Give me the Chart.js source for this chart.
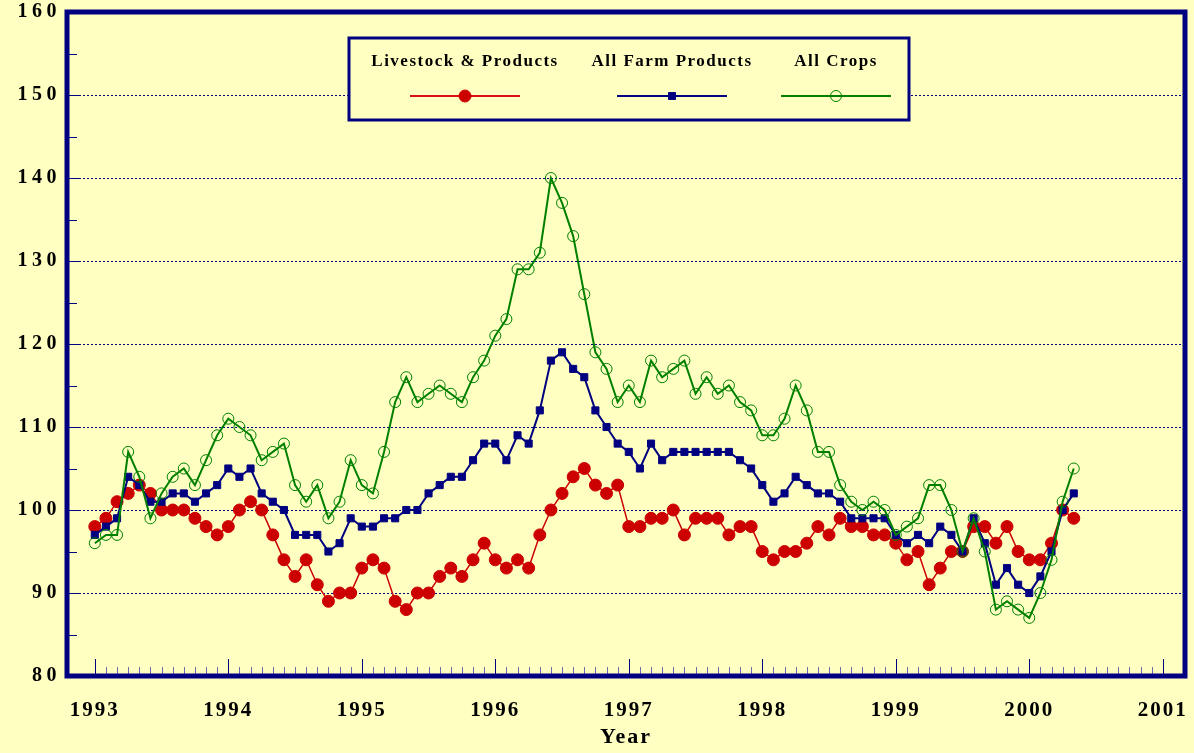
<!DOCTYPE html>
<html>
<head>
<script src="https://cdn.jsdelivr.net/npm/chart.js@4.4.0/dist/chart.umd.min.js"></script>
<style>
  body { margin: 0; background: #FFFFC2; }
  .wrap { width: 1194px; height: 753px; }
</style>
</head>
<body>
<div class="wrap"><canvas id="c"></canvas></div>
<script>
// monthly index values, Jan 1993 .. May 2000
const yearLabels = ['1993', '1994', '1995', '1996', '1997', '1998', '1999', '2000', '2001'];

const livestock = [
  98, 99, 101, 102, 103, 102, 100, 100, 100, 99, 98, 97,
  98, 100, 101, 100, 97, 94, 92, 94, 91, 89, 90, 90,
  93, 94, 93, 89, 88, 90, 90, 92, 93, 92, 94, 96,
  94, 93, 94, 93, 97, 100, 102, 104, 105, 103, 102, 103,
  98, 98, 99, 99, 100, 97, 99, 99, 99, 97, 98, 98,
  95, 94, 95, 95, 96, 98, 97, 99, 98, 98, 97, 97,
  96, 94, 95, 91, 93, 95, 95, 98, 98, 96, 98, 95,
  94, 94, 96, 100, 99
];

const farmProducts = [
  97, 98, 99, 104, 103, 101, 101, 102, 102, 101, 102, 103,
  105, 104, 105, 102, 101, 100, 97, 97, 97, 95, 96, 99,
  98, 98, 99, 99, 100, 100, 102, 103, 104, 104, 106, 108,
  108, 106, 109, 108, 112, 118, 119, 117, 116, 112, 110, 108,
  107, 105, 108, 106, 107, 107, 107, 107, 107, 107, 106, 105,
  103, 101, 102, 104, 103, 102, 102, 101, 99, 99, 99, 99,
  97, 96, 97, 96, 98, 97, 95, 99, 96, 91, 93, 91,
  90, 92, 95, 100, 102
];

const crops = [
  96, 97, 97, 107, 104, 99, 102, 104, 105, 103, 106, 109,
  111, 110, 109, 106, 107, 108, 103, 101, 103, 99, 101, 106,
  103, 102, 107, 113, 116, 113, 114, 115, 114, 113, 116, 118,
  121, 123, 129, 129, 131, 140, 137, 133, 126, 119, 117, 113,
  115, 113, 118, 116, 117, 118, 114, 116, 114, 115, 113, 112,
  109, 109, 111, 115, 112, 107, 107, 103, 101, 100, 101, 100,
  97, 98, 99, 103, 103, 100, 95, 99, 95, 88, 89, 88,
  87, 90, 94, 101, 105
];

const BG = '#FFFFC2';
const NAVY = '#000080';
const FONT = "'Liberation Serif', serif";

const toPoints = arr => arr.map((v, i) => ({ x: i, y: v }));

// y labels in the original are spaced wider than the year labels
function spacedLabels(scale, spacing) {
  if (scale._spaced) return;
  scale._spaced = true;
  const orig = scale.drawLabels;
  scale.drawLabels = function (area) {
    const prev = this.ctx.letterSpacing;
    this.ctx.letterSpacing = spacing;
    orig.call(this, area);
    this.ctx.letterSpacing = prev;
  };
}

const chartFrame = {
  id: 'chartFrame',
  beforeDraw(chart) {
    const ctx = chart.ctx;
    ctx.save();
    ctx.fillStyle = BG;
    ctx.fillRect(0, 0, chart.width, chart.height);
    ctx.restore();
    ctx.letterSpacing = '2px';
  },
  beforeDatasetsDraw(chart) {
    const { ctx, chartArea: a, scales: { x, y } } = chart;
    ctx.save();
    // month ticks along the bottom, inside the frame
    for (let m = 0; m <= 96; m++) {
      const px = Math.round(x.getPixelForValue(m)) + 0.5;
      const major = m % 12 === 0;
      ctx.strokeStyle = major ? NAVY : '#6a6ab0';
      ctx.lineWidth = 1;
      ctx.beginPath();
      ctx.moveTo(px, a.bottom);
      ctx.lineTo(px, a.bottom - (major ? 17 : 9));
      ctx.stroke();
    }
    // half-step ticks on the y axis
    for (let v = 85; v < 160; v += 5) {
      const py = Math.round(y.getPixelForValue(v)) + 0.5;
      ctx.strokeStyle = NAVY;
      ctx.lineWidth = 1;
      ctx.beginPath();
      ctx.moveTo(a.left, py);
      ctx.lineTo(a.left + (v % 10 === 0 ? 14 : 10), py);
      ctx.stroke();
    }
    ctx.strokeStyle = NAVY;
    ctx.lineWidth = 5;
    ctx.strokeRect(a.left, a.top, a.right - a.left, a.bottom - a.top);
    ctx.restore();
  },
  afterDraw(chart) {
    const ctx = chart.ctx;
    ctx.save();
    ctx.fillStyle = BG;
    ctx.fillRect(349, 38, 560, 82);
    ctx.strokeStyle = NAVY;
    ctx.lineWidth = 3;
    ctx.strokeRect(349, 38, 560, 82);

    const centers = [465, 672, 836];
    const lineColors = ['#D81010', NAVY, '#008000'];
    chart.data.datasets.forEach((ds, i) => {
      const cx = centers[i];
      ctx.font = 'bold 17px ' + FONT;
      ctx.letterSpacing = '1.5px';
      ctx.fillStyle = '#000';
      ctx.textAlign = 'center';
      ctx.textBaseline = 'middle';
      ctx.fillText(ds.label, cx, 62);

      ctx.strokeStyle = lineColors[i];
      ctx.lineWidth = 2;
      ctx.beginPath();
      ctx.moveTo(cx - 55, 96);
      ctx.lineTo(cx + 55, 96);
      ctx.stroke();

      ctx.lineWidth = 1;
      ctx.strokeStyle = ds.pointBorderColor;
      ctx.fillStyle = ds.pointBackgroundColor;
      ctx.beginPath();
      if (ds.pointStyle === 'rect') {
        ctx.rect(cx - 3.5, 92.5, 7, 7);
      } else {
        ctx.arc(cx, 96, ds.pointRadius, 0, Math.PI * 2);
      }
      ctx.fill();
      ctx.stroke();
    });
    ctx.restore();
  }
};

new Chart(document.getElementById('c'), {
  type: 'line',
  data: {
    datasets: [
      {
        label: 'Livestock & Products',
        data: toPoints(livestock),
        borderColor: '#CC0000',
        borderWidth: 1.5,
        pointStyle: 'circle',
        pointRadius: 6,
        pointBorderWidth: 1,
        pointBorderColor: '#CC0000',
        pointBackgroundColor: '#CC0000',
        order: 3
      },
      {
        label: 'All Farm Products',
        data: toPoints(farmProducts),
        borderColor: NAVY,
        borderWidth: 2,
        pointStyle: 'rect',
        pointRadius: 5,
        pointBorderWidth: 1,
        pointBorderColor: NAVY,
        pointBackgroundColor: NAVY,
        order: 2
      },
      {
        label: 'All Crops',
        data: toPoints(crops),
        borderColor: '#008000',
        borderWidth: 2,
        pointStyle: 'circle',
        pointRadius: 5.5,
        pointBorderWidth: 1,
        pointBorderColor: '#008000',
        pointBackgroundColor: 'rgba(0,0,0,0)',
        order: 1
      }
    ]
  },
  options: {
    responsive: true,
    maintainAspectRatio: false,
    animation: false,
    events: [],
    layout: { padding: { top: 12, right: 9, left: 0, bottom: 0 } },
    plugins: {
      legend: { display: false },
      tooltip: { enabled: false }
    },
    elements: { line: { tension: 0 } },
    scales: {
      x: {
        type: 'linear',
        position: 'bottom',
        min: -2.5,
        max: 98,
        grid: { display: false },
        border: { display: false },
        afterBuildTicks: s => { s.ticks = yearLabels.map((_, i) => ({ value: i * 12 })); },
        afterFit: s => {
          s.height = 77;
          s.paddingLeft = 0;
          s.paddingRight = 0;
        },
        ticks: {
          autoSkip: false,
          maxRotation: 0,
          padding: 14,
          color: '#000',
          font: { family: FONT, size: 21, weight: 'bold' },
          callback: v => yearLabels[v / 12]
        },
        title: {
          display: true,
          text: 'Year',
          color: '#000',
          font: { family: FONT, size: 22, weight: 'bold' },
          padding: { top: 0, bottom: 2 }
        }
      },
      y: {
        min: 80,
        max: 160,
        afterFit: s => {
          s.width = 67;
          s.paddingTop = 0;
          s.paddingBottom = 0;
          spacedLabels(s, '4.5px');
        },
        grid: { color: NAVY, lineWidth: 1, drawTicks: false },
        border: { display: false, dash: [2, 2] },
        ticks: {
          stepSize: 10,
          padding: 6,
          color: '#000',
          font: { family: FONT, size: 20, weight: 'bold' }
        }
      }
    }
  },
  plugins: [chartFrame]
});
</script>
</body>
</html>
